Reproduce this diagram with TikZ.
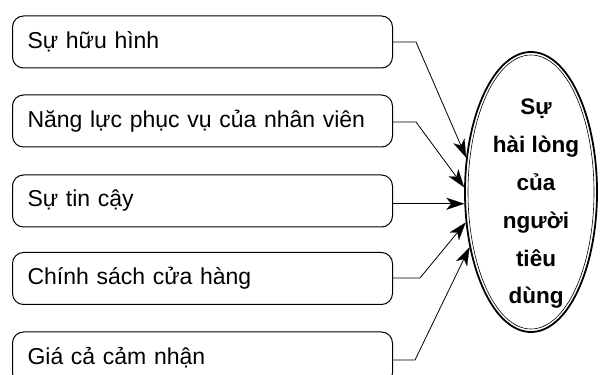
\documentclass[tikz,border=0pt]{standalone}
\usepackage{fontspec}
\setmainfont{Liberation Sans}
\usetikzlibrary{arrows.meta,shapes.geometric}
\begin{document}
\begin{tikzpicture}[x=1pt,y=1pt,
  factor/.style={draw,line width=1pt,rounded corners=11pt,minimum height=52pt,
    text width=350pt,inner xsep=15pt,align=left,font=\fontsize{23}{27}\selectfont,anchor=west},
  conn/.style={line width=0.8pt,-{Stealth[length=18pt,width=12pt,inset=5pt,line width=0.1pt]}}]
\useasboundingbox (0,0) rectangle (600,375);
\node[factor] (b1) at (12,333) {Sự hữu hình};
\node[factor] (b2) at (12,254) {Năng lực phục vụ của nhân viên};
\node[factor] (b3) at (12,174) {Sự tin cậy};
\node[factor] (b4) at (12,96.5) {Chính sách cửa hàng};
\node[factor] (b5) at (12,17) {Giá cả cảm nhận};
\node[draw,ellipse,line width=1.8pt,minimum width=132pt,minimum height=280pt,inner sep=0pt] (ell) at (531,183) {};
\draw[line width=0.6pt] (ell.center) ellipse [x radius=63pt, y radius=137pt];
\node[align=center,font=\bfseries\fontsize{22.5}{37.8}\selectfont] (t) at (536,171) {Sự\\hài lòng\\của\\người\\tiêu\\dùng};
\coordinate (e1) at (416,333);
\coordinate (e2) at (416,253);
\coordinate (e4) at (420,97);
\coordinate (e5) at (415,15);
\draw[conn] (b1.east |- e1) -- (e1) -- (ell.152);
\draw[conn] (b2.east |- e2) -- (e2) -- (ell.176);
\draw[conn] (b3.east |- ell.190) -- (ell.190);
\draw[conn] (b4.east |- e4) -- (e4) -- (ell.205);
\draw[conn] (b5.east |- e5) -- (e5) -- (ell.222);
\end{tikzpicture}
\end{document}
